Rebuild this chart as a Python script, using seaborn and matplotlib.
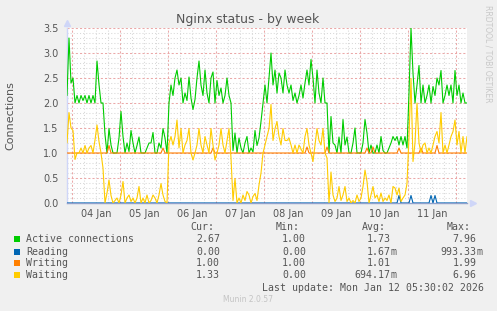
import numpy as np
import pandas as pd
import matplotlib
matplotlib.use("Agg")
import matplotlib.pyplot as plt
import seaborn as sns
from matplotlib.patches import Rectangle

# ---------------- data (hourly samples, starting 2026-01-03 21:30) ----------------
start_time = "2026-01-03 21:30"

active = [
    2.15, 3.3, 2.4, 2.5, 2.0, 2.15, 2.0, 2.15, 2.05, 2.15,
    2.0, 2.15, 2.0, 2.15, 2.0, 2.84, 2.37, 2.0, 2.0, 1.37,
    1.0, 1.49, 1.16, 1.0, 1.0, 1.0, 1.3, 1.83, 1.33, 1.0,
    1.2, 1.03, 1.45, 1.2, 1.0, 1.15, 1.32, 1.0, 1.0, 1.0,
    1.1, 1.2, 1.2, 1.41, 1.0, 1.0, 1.2, 1.1, 1.49, 1.3,
    1.0, 2.0, 2.36, 2.15, 2.5, 2.66, 2.36, 2.5, 2.0, 2.2,
    2.05, 2.52, 2.1, 1.87, 2.07, 2.5, 2.84, 2.36, 2.15, 2.66,
    2.2, 2.0, 2.5, 2.62, 2.0, 2.45, 2.15, 2.3, 2.0, 2.15,
    2.5, 2.15, 2.0, 1.05, 1.4, 1.0, 1.3, 1.1, 1.0, 1.2,
    1.33, 1.0, 1.1, 1.02, 1.45, 1.15, 1.3, 1.63, 2.0, 2.36,
    2.0, 2.5, 3.0, 2.36, 2.66, 2.2, 2.6, 2.5, 2.2, 2.66,
    2.36, 2.2, 2.36, 2.05, 2.2, 2.0, 2.15, 2.36, 2.1, 2.4,
    2.66, 2.36, 2.87, 2.5, 2.0, 2.66, 2.2, 2.0, 2.5, 2.0,
    2.0, 1.0, 1.73, 1.2, 1.16, 1.0, 1.32, 1.0, 1.67, 1.16,
    1.32, 1.0, 1.0, 1.2, 1.5, 1.0, 1.0, 1.0, 1.2, 1.67,
    1.4, 1.0, 1.16, 1.0, 1.0, 1.16, 1.0, 1.33, 1.05, 1.0,
    1.0, 1.1, 1.2, 1.33, 1.25, 1.33, 1.16, 1.33, 1.16, 1.33,
    1.1, 2.2, 3.5, 2.6, 2.0, 2.36, 2.75, 2.0, 2.36, 2.0,
    2.15, 2.36, 2.0, 2.33, 2.15, 2.5, 2.36, 2.65, 2.0, 2.15,
    2.36, 2.15, 2.36, 2.0, 2.65, 2.15, 2.36, 2.0, 2.2, 2.0,
    2.0,
]

reading = [
    0, 0, 0, 0, 0, 0, 0, 0, 0, 0,
    0, 0, 0, 0, 0, 0, 0, 0, 0, 0,
    0, 0, 0, 0, 0, 0, 0, 0, 0, 0,
    0, 0, 0, 0, 0, 0, 0, 0, 0, 0,
    0, 0, 0, 0, 0, 0, 0, 0, 0, 0,
    0, 0, 0, 0, 0, 0, 0, 0, 0, 0,
    0, 0, 0, 0, 0, 0, 0, 0, 0, 0,
    0, 0, 0, 0, 0, 0, 0, 0, 0, 0,
    0, 0, 0, 0, 0, 0, 0, 0, 0, 0,
    0, 0, 0, 0, 0, 0, 0, 0, 0, 0,
    0, 0, 0, 0, 0, 0, 0, 0, 0, 0,
    0, 0, 0, 0, 0, 0, 0, 0, 0, 0,
    0, 0, 0, 0, 0, 0, 0, 0, 0, 0,
    0, 0, 0, 0, 0, 0, 0, 0, 0, 0,
    0, 0, 0, 0, 0, 0, 0, 0, 0, 0,
    0, 0, 0, 0, 0, 0, 0, 0, 0, 0,
    0, 0, 0, 0, 0, 0, 0.15, 0, 0, 0,
    0, 0, 0.15, 0, 0, 0, 0, 0, 0, 0,
    0, 0, 0.15, 0, 0.15, 0, 0, 0, 0, 0,
    0, 0, 0, 0, 0, 0, 0, 0, 0, 0,
    0,
]

writing = [
    1, 1, 1, 1, 1, 1, 1, 1, 1, 1,
    1, 1, 1, 1, 1, 1, 1, 1, 1, 1,
    1, 1.15, 1, 1, 1, 1, 1, 1, 1, 1,
    1, 1, 1, 1, 1, 1, 1, 1, 1, 1,
    1, 1, 1, 1, 1, 1, 1, 1, 1.1, 1,
    1, 1, 1, 1, 1, 1, 1, 1, 1, 1,
    1, 1, 1, 1, 1, 1, 1, 1, 1, 1,
    1, 1, 1, 1.1, 1, 1, 1, 1, 1, 1,
    1, 1, 1, 1, 1, 1, 1, 1, 1, 1,
    1, 1, 1, 1, 1, 1, 1, 1, 1, 1,
    1, 1, 1, 1, 1, 1, 1, 1, 1, 1,
    1, 1, 1, 1, 1, 1, 1, 1, 1, 1,
    1.12, 1, 1, 1, 1, 1, 1, 1, 1, 1,
    1.12, 1, 1, 1, 1, 1, 1, 1, 1, 1,
    1, 1, 1, 1, 1, 1, 1, 1, 1, 1,
    1.1, 1, 1, 1.12, 1, 1, 1, 1, 1, 1,
    1, 1, 1, 1, 1, 1, 1.1, 1, 1, 1,
    1, 1, 1, 1, 1, 1, 1, 1.1, 1, 1,
    1, 1, 1, 1, 1, 1.15, 1, 1, 1, 1,
    1, 1, 1, 1, 1, 1, 1, 1, 1, 1,
    1,
]

waiting = [
    1.2, 1.81, 1.5, 1.45, 0.87, 1.0, 1.0, 1.1, 1.0, 1.15,
    1.0, 1.1, 1.15, 1.0, 1.26, 1.56, 1.23, 1.0, 0.7, 0.0,
    0.2, 0.46, 0.15, 0.0, 0.05, 0.1, 0.0, 0.16, 0.43, 0.0,
    0.1, 0.16, 0.03, 0.1, 0.0, 0.1, 0.33, 0.0, 0.1, 0.0,
    0.16, 0.0, 0.05, 0.16, 0.1, 0.0, 0.16, 0.39, 0.16, 0.03,
    0.0, 1.2, 1.33, 1.16, 1.33, 1.66, 1.1, 1.49, 1.0, 1.16,
    1.25, 1.49, 1.0, 0.86, 1.0, 1.16, 1.49, 1.16, 1.0, 1.33,
    1.16, 1.0, 1.49, 1.16, 0.86, 1.0, 1.16, 1.49, 1.16, 1.0,
    1.25, 1.49, 0.9, 0.05, 0.49, 0.0, 0.1, 0.0, 0.16, 0.05,
    0.23, 0.16, 0.0, 0.13, 0.19, 0.05, 0.36, 0.6, 1.0, 1.16,
    1.33, 1.49, 1.97, 1.25, 1.49, 1.63, 1.33, 1.16, 1.49, 1.25,
    1.25, 1.3, 1.16, 1.0, 1.16, 1.0, 1.16, 1.08, 1.0, 1.33,
    1.49, 1.16, 1.0, 0.83, 1.16, 1.49, 1.25, 1.16, 1.49, 1.0,
    0.9, 0.0, 0.62, 0.16, 0.03, 0.1, 0.33, 0.05, 0.16, 0.33,
    0.03, 0.1, 0.0, 0.05, 0.0, 0.16, 0.03, 0.1, 0.33, 0.66,
    0.43, 0.0, 0.16, 0.33, 0.1, 0.16, 0.03, 0.2, 0.03, 0.1,
    0.05, 0.16, 0.0, 0.33, 0.3, 0.16, 0.3, 0.03, 0.1, 0.16,
    0.39, 1.33, 2.49, 0.83, 1.2, 2.0, 1.2, 1.0, 1.16, 1.2,
    1.0, 1.1, 1.0, 1.16, 1.33, 1.43, 1.2, 1.81, 1.0, 1.16,
    1.0, 1.16, 1.33, 1.43, 1.66, 1.16, 1.43, 1.0, 1.33, 1.0,
    1.33,
]

series_names = ["Active connections", "Reading", "Writing", "Waiting"]
series_colors = ["#00CC00", "#0066B3", "#FF8000", "#FFCC00"]
cur_vals = ["2.67", "0.00", "1.00", "1.33"]
min_vals = ["1.00", "0.00", "1.00", "0.00"]
avg_vals = ["1.73", "1.67m", "1.01", "694.17m"]
max_vals = ["7.96", "993.33m", "1.99", "6.96"]
day_labels = ["04 Jan", "05 Jan", "06 Jan", "07 Jan", "08 Jan", "09 Jan", "10 Jan", "11 Jan"]
y_ticks = [0.0, 0.5, 1.0, 1.5, 2.0, 2.5, 3.0, 3.5]

# ---------------- build frame ----------------
times = pd.date_range(start_time, periods=len(active), freq="h")
df = pd.DataFrame({"time": times, series_names[0]: active, series_names[1]: reading,
                   series_names[2]: writing, series_names[3]: waiting})
long = df.melt(id_vars="time", var_name="series", value_name="value")

# ---------------- figure ----------------
sns.set_style("white")
plt.rcParams["font.family"] = ["DejaVu Sans"]
TXT = "#555555"
W, H = 497, 311
fig = plt.figure(figsize=(W / 100, H / 100), dpi=100, facecolor="#F0F0F0")
ax = fig.add_axes([67 / W, 1 - 203 / H, 400 / W, 175 / H])
ax.set_facecolor("white")

# grid
for d in pd.date_range(times[0].ceil("6h"), times[-1], freq="6h"):
    if d.hour == 0:
        ax.axvline(d, color="#EBA8A8", lw=0.75, ls=(0, (2, 2)), zorder=1)
    else:
        ax.axvline(d, color="#D8D8D8", lw=0.75, ls=(0, (1, 2)), zorder=1)
for v in np.round(np.arange(0.1, 3.51, 0.1), 2):
    if abs(v * 2 - round(v * 2)) < 1e-6:
        ax.axhline(v, color="#EBA8A8", lw=0.75, ls=(0, (2, 2)), zorder=1)
    else:
        ax.axhline(v, color="#D8D8D8", lw=0.75, ls=(0, (1, 2)), zorder=1)

sns.lineplot(data=long, x="time", y="value", hue="series", hue_order=series_names,
             palette=dict(zip(series_names, series_colors)), estimator=None,
             linewidth=0.8, legend=False, ax=ax, zorder=3)

ax.set_xlim(times[0], times[-1])
ax.set_ylim(0, 3.5)
ax.set_xlabel("")
ax.set_ylabel("Connections", color=TXT, fontsize=8)
ax.yaxis.set_label_coords(-52 / 400, 0.5)

ax.set_yticks(y_ticks)
ax.set_yticklabels([f"{v:.1f}" for v in y_ticks])
noons = pd.date_range("2026-01-04 12:00", periods=len(day_labels), freq="D")
ax.set_xticks(noons)
ax.set_xticklabels(day_labels)
ax.tick_params(axis="both", length=0, colors=TXT, labelsize=7)
ax.tick_params(axis="y", pad=6)
ax.tick_params(axis="x", pad=4)

for s in ["top", "right"]:
    ax.spines[s].set_visible(False)
for s in ["left", "bottom"]:
    ax.spines[s].set_color("#CFD6F8")
    ax.spines[s].set_linewidth(1.0)
ax.spines["bottom"].set_color("#8FA0CC")

# arrows
ax.plot([0], [1.0 + 5 / 175], marker="^", color="#CFD6F8", markersize=5,
        transform=ax.transAxes, clip_on=False, zorder=5)
ax.plot([1.0 + 6 / 400], [0], marker=">", color="#CFD6F8", markersize=5,
        transform=ax.transAxes, clip_on=False, zorder=5)

# title and side text
def fx(x):
    return x / W

def fy(y):
    return 1 - y / H

fig.text(fx(248), fy(19.3), "Nginx status - by week", ha="center", va="center",
         fontsize=9, color=TXT)
fig.text(fx(488), fy(5), "RRDTOOL / TOBI OETIKER", rotation=270, ha="center", va="top",
         fontsize=5.5, color="#C8C8C8")

# legend block
MONO = "DejaVu Sans Mono"
fs = 7.1
hdr_y = 227.3
for txt, x in [("Cur:", 190.7), ("Min:", 276), ("Avg:", 361.7), ("Max:", 446.7)]:
    fig.text(fx(x), fy(hdr_y), txt, family=MONO, fontsize=fs, color=TXT, ha="left", va="center")

row_ys = [239.3, 251.7, 263.3, 275.3]
def put_value(s, xr, y):
    if s.endswith("m"):
        fig.text(fx(xr), fy(y), s[:-1], family=MONO, fontsize=fs, color=TXT, ha="right", va="center")
        fig.text(fx(xr), fy(y), "m", family=MONO, fontsize=fs, color=TXT, ha="left", va="center")
    else:
        fig.text(fx(xr), fy(y), s, family=MONO, fontsize=fs, color=TXT, ha="right", va="center")

for i, name in enumerate(series_names):
    y = row_ys[i]
    fig.patches.append(Rectangle((fx(14), fy(y + 3)), 6 / W, 6 / H, transform=fig.transFigure,
                                 facecolor=series_colors[i], edgecolor="none"))
    fig.text(fx(26), fy(y), name, family=MONO, fontsize=fs, color=TXT, ha="left", va="center")
    put_value(cur_vals[i], 220, y)
    put_value(min_vals[i], 306, y)
    put_value(avg_vals[i], 390.7, y)
    put_value(max_vals[i], 476.7, y)

fig.text(fx(261.7), fy(287.7), "Last update: Mon Jan 12 05:30:02 2026", family=MONO,
         fontsize=fs, color=TXT, ha="left", va="center")
fig.text(fx(248), fy(300), "Munin 2.0.57", fontsize=5.5, color="#C4C4C4", ha="center", va="center")

fig.savefig("out.png", dpi=100, facecolor=fig.get_facecolor())
